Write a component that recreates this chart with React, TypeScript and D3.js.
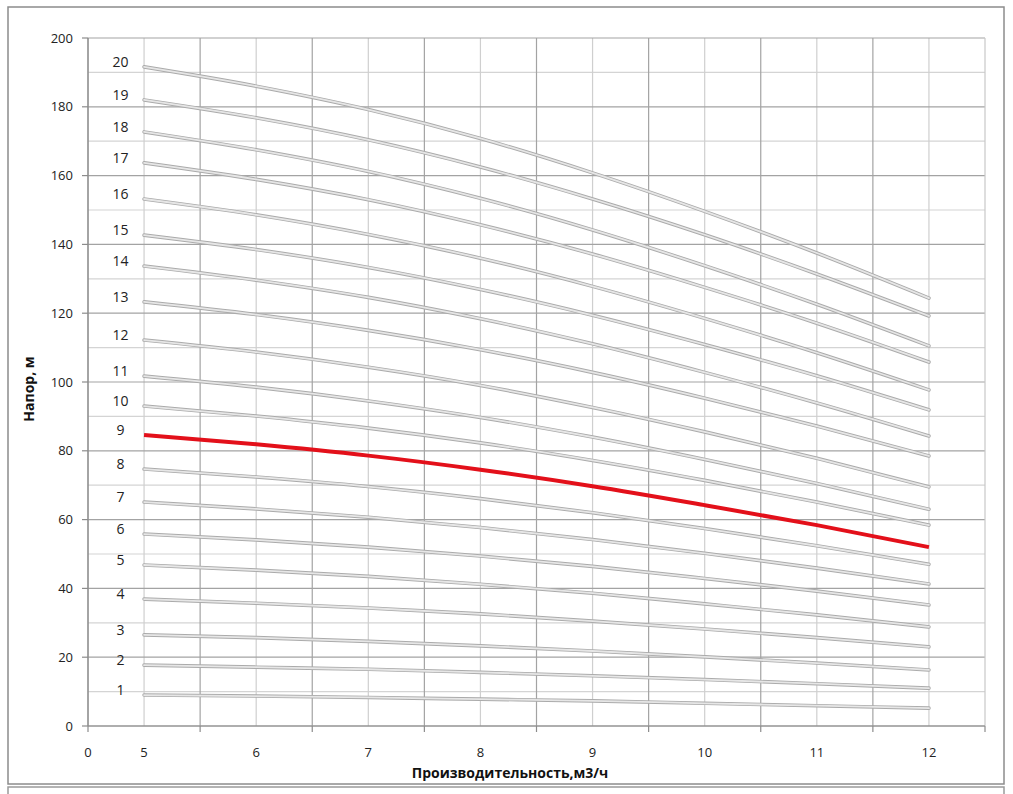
import React from "react";
import * as d3 from "d3";

const flows = [5, 6, 7, 8, 9, 10, 11, 12];
const xTickLabels = ["0", "5", "6", "7", "8", "9", "10", "11", "12"];
const xTickValues = [4.5, 5, 6, 7, 8, 9, 10, 11, 12];
const yTicks = [0, 20, 40, 60, 80, 100, 120, 140, 160, 180, 200];
const stageNames = ["1","2","3","4","5","6","7","8","9","10","11","12","13","14","15","16","17","18","19","20"];
const highlighted = "9";

const h1 = [9.0, 8.7, 8.3, 7.8, 7.3, 6.6, 5.9, 5.2];
const h2 = [17.7, 17.1, 16.5, 15.6, 14.6, 13.5, 12.3, 11.0];
const h3 = [26.5, 25.7, 24.6, 23.3, 21.8, 20.1, 18.3, 16.3];
const h4 = [36.9, 35.7, 34.3, 32.6, 30.5, 28.2, 25.7, 23.0];
const h5 = [46.8, 45.3, 43.5, 41.2, 38.6, 35.5, 32.3, 28.8];
const h6 = [55.8, 54.1, 52.0, 49.4, 46.4, 42.9, 39.2, 35.2];
const h7 = [65.1, 63.1, 60.7, 57.7, 54.2, 50.2, 45.9, 41.3];
const h8 = [74.7, 72.4, 69.6, 66.1, 62.0, 57.4, 52.4, 47.0];
const h9 = [84.6, 81.9, 78.6, 74.5, 69.7, 64.2, 58.4, 52.0];
const h10 = [93.0, 90.1, 86.6, 82.3, 77.2, 71.4, 65.1, 58.4];
const h11 = [101.7, 98.5, 94.5, 89.7, 84.0, 77.5, 70.5, 63.0];
const h12 = [112.2, 108.7, 104.3, 99.0, 92.6, 85.5, 77.8, 69.5];
const h13 = [123.3, 119.6, 115.0, 109.4, 102.8, 95.3, 87.2, 78.5];
const h14 = [133.7, 129.6, 124.6, 118.4, 111.1, 102.8, 93.9, 84.3];
const h15 = [142.7, 138.5, 133.3, 126.9, 119.4, 110.9, 101.8, 91.9];
const h16 = [153.2, 148.6, 142.9, 136.0, 127.8, 118.5, 108.5, 97.7];
const h17 = [163.7, 158.9, 153.0, 145.7, 137.2, 127.5, 117.1, 105.8];
const h18 = [172.7, 167.5, 161.2, 153.4, 144.2, 133.8, 122.6, 110.5];
const h19 = [182.0, 176.8, 170.4, 162.5, 153.2, 142.8, 131.4, 119.2];
const h20 = [191.6, 186.0, 179.2, 170.8, 160.8, 149.6, 137.5, 124.4];

const heads = [h1, h2, h3, h4, h5, h6, h7, h8, h9, h10, h11, h12, h13, h14, h15, h16, h17, h18, h19, h20];

const W = 1013;
const H = 794;
const FONT = "'Open Sans', 'Noto Sans', sans-serif";

export default function App() {
  const x = d3.scaleLinear().domain([4.5, 12.5]).range([88, 985]);
  const y = d3.scaleLinear().domain([0, 200]).range([726, 38]);
  const line = d3
    .line<number>()
    .x((_, i) => x(flows[i]))
    .y((d) => y(d))
    .curve(d3.curveMonotoneX);

  const majorX = d3.range(4.5, 12.6, 1);
  const minorX = d3.range(5, 12.1, 1);
  const majorY = d3.range(0, 201, 20);
  const minorY = d3.range(10, 200, 20);

  return (
    <svg
      width={W}
      height={H}
      style={{ position: "absolute", left: 0, top: 0, background: "#fff" }}
      fontFamily={FONT}
    >
      <rect x={8} y={7} width={996} height={777} fill="#fff" stroke="#8c8c8c" strokeWidth={1.5} />
      <rect x={8} y={787} width={996} height={40} fill="#fff" stroke="#9a9a9a" strokeWidth={1.5} />

      {/* minor grid */}
      {minorY.map((v) => (
        <line key={"my" + v} x1={x(4.5)} x2={x(12.5)} y1={y(v)} y2={y(v)} stroke="#d4d4d4" strokeWidth={1.2} />
      ))}
      {minorX.map((v) => (
        <line key={"mx" + v} x1={x(v)} x2={x(v)} y1={y(0)} y2={y(200)} stroke="#cfcfcf" strokeWidth={1.2} />
      ))}
      {/* major grid */}
      {majorY.map((v) => (
        <line key={"My" + v} x1={x(4.5)} x2={x(12.5)} y1={y(v)} y2={y(v)} stroke="#a3a3a3" strokeWidth={1.2} />
      ))}
      {majorX.map((v) => (
        <line key={"Mx" + v} x1={x(v)} x2={x(v)} y1={y(0)} y2={y(200)} stroke={v === 12.5 ? "#c8c8c8" : "#a3a3a3"} strokeWidth={1.2} />
      ))}

      {/* axes */}
      <line x1={x(4.5)} x2={x(4.5)} y1={y(0)} y2={y(200)} stroke="#8c8c8c" strokeWidth={1.2} />
      <line x1={x(4.5)} x2={x(12.5)} y1={y(0)} y2={y(0)} stroke="#8c8c8c" strokeWidth={1.2} />
      {yTicks.map((v) => (
        <g key={"yt" + v}>
          <line x1={x(4.5) - 6} x2={x(4.5)} y1={y(v)} y2={y(v)} stroke="#8c8c8c" strokeWidth={1.2} />
          <text x={73} y={y(v)} dy="0.36em" textAnchor="end" fontSize={13} fill="#222">
            {v}
          </text>
        </g>
      ))}
      {majorX.map((v) => (
        <line key={"xt" + v} x1={x(v)} x2={x(v)} y1={y(0)} y2={y(0) + 6} stroke="#8c8c8c" strokeWidth={1.2} />
      ))}
      {xTickValues.map((v, i) => (
        <text key={"xl" + i} x={x(v)} y={757} textAnchor="middle" fontSize={13} fill="#222">
          {xTickLabels[i]}
        </text>
      ))}

      {/* curves */}
      {heads.map((h, i) =>
        stageNames[i] === highlighted ? null : (
          <g key={"c" + i}>
            <path d={line(h) || ""} fill="none" stroke="#ababab" strokeWidth={3.6} strokeLinecap="round" />
            <path d={line(h) || ""} fill="none" stroke="#e6e6e6" strokeWidth={1.8} strokeLinecap="round" />
          </g>
        )
      )}
      {heads.map((h, i) =>
        stageNames[i] === highlighted ? (
          <path key={"r" + i} d={line(h) || ""} fill="none" stroke="#e3101a" strokeWidth={4} />
        ) : null
      )}

      {/* stage labels */}
      {heads.map((h, i) => (
        <text key={"l" + i} x={x(4.79)} y={y(h[0]) - 5} dy="0.36em" textAnchor="middle" fontSize={14} fill="#222">
          {stageNames[i]}
        </text>
      ))}

      {/* titles */}
      <text x={510} y={778} textAnchor="middle" fontSize={14} fontWeight="bold" fill="#111">
        Производительность,м3/ч
      </text>
      <text
        transform={`translate(34, 389) rotate(-90)`}
        textAnchor="middle"
        fontSize={14}
        fontWeight="bold"
        fill="#111"
      >
        Напор, м
      </text>
    </svg>
  );
}
